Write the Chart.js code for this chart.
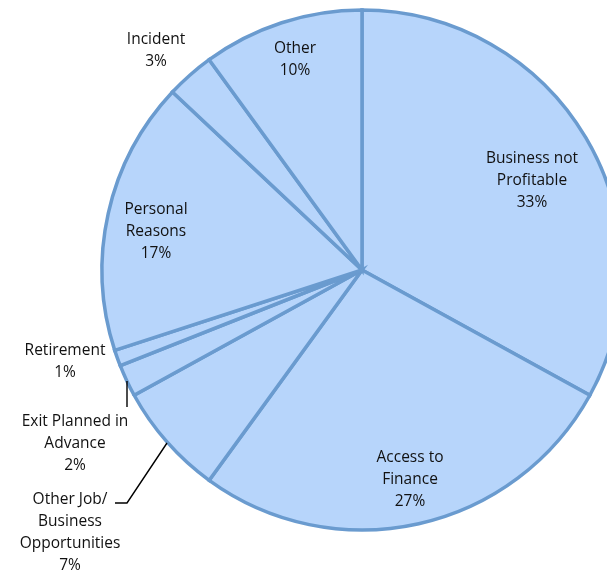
<!DOCTYPE html>
<html>
<head>
<meta charset="utf-8">
<script src="https://cdn.jsdelivr.net/npm/chart.js@4"></script>
<style>
  html, body { margin: 0; padding: 0; background: #ffffff; }
  #wrap { width: 607px; height: 572px; position: relative; }
</style>
</head>
<body>
<div id="wrap"><canvas id="c" width="607" height="572"></canvas></div>
<script>
// Reasons for business exit, share of responses (%)
const categories = [
  ['Business not', 'Profitable'],
  ['Access to', 'Finance'],
  ['Other Job/', 'Business', 'Opportunities'],
  ['Exit Planned in', 'Advance'],
  ['Retirement'],
  ['Personal', 'Reasons'],
  ['Incident'],
  ['Other']
];
const shares = [33, 27, 7, 2, 1, 17, 3, 10];

// Where each label block is centred (first line's centre)
const labelAnchors = [
  [532, 159], [410, 458], [70, 500], [75, 422],
  [65, 351], [156, 210], [156, 40], [295, 49]
];
// Leader lines for the labels that sit outside their slices
const leaders = {
  3: [[127, 381], [127, 407]],
  2: [[167, 443], [127, 503], [115, 503]]
};

const labelPlugin = {
  id: 'sliceLabels',
  afterDatasetsDraw(chart) {
    const ctx = chart.ctx;
    ctx.save();
    ctx.strokeStyle = '#000000';
    ctx.lineWidth = 1.4;
    Object.values(leaders).forEach(pts => {
      ctx.beginPath();
      ctx.moveTo(pts[0][0], pts[0][1]);
      for (let i = 1; i < pts.length; i++) ctx.lineTo(pts[i][0], pts[i][1]);
      ctx.stroke();
    });
    ctx.fillStyle = '#111111';
    ctx.font = '15.5px "Open Sans", sans-serif';
    ctx.textAlign = 'center';
    ctx.textBaseline = 'middle';
    const lineH = 22;
    categories.forEach((lines, i) => {
      const [x, y] = labelAnchors[i];
      const all = lines.concat([shares[i] + '%']);
      all.forEach((t, k) => ctx.fillText(t, x, y + k * lineH));
    });
    ctx.restore();
  }
};

new Chart(document.getElementById('c'), {
  type: 'pie',
  data: {
    labels: categories.map(l => l.join(' ')),
    datasets: [{
      data: shares,
      backgroundColor: '#b7d5fb',
      borderColor: '#6a9bcf',
      borderWidth: 3.5,
      borderJoinStyle: 'miter',
      radius: 260
    }]
  },
  options: {
    responsive: false,
    animation: false,
    layout: { padding: { left: 117, right: 0, top: 0, bottom: 32 } },
    plugins: { legend: { display: false }, tooltip: { enabled: false } }
  },
  plugins: [labelPlugin]
});
</script>
</body>
</html>
